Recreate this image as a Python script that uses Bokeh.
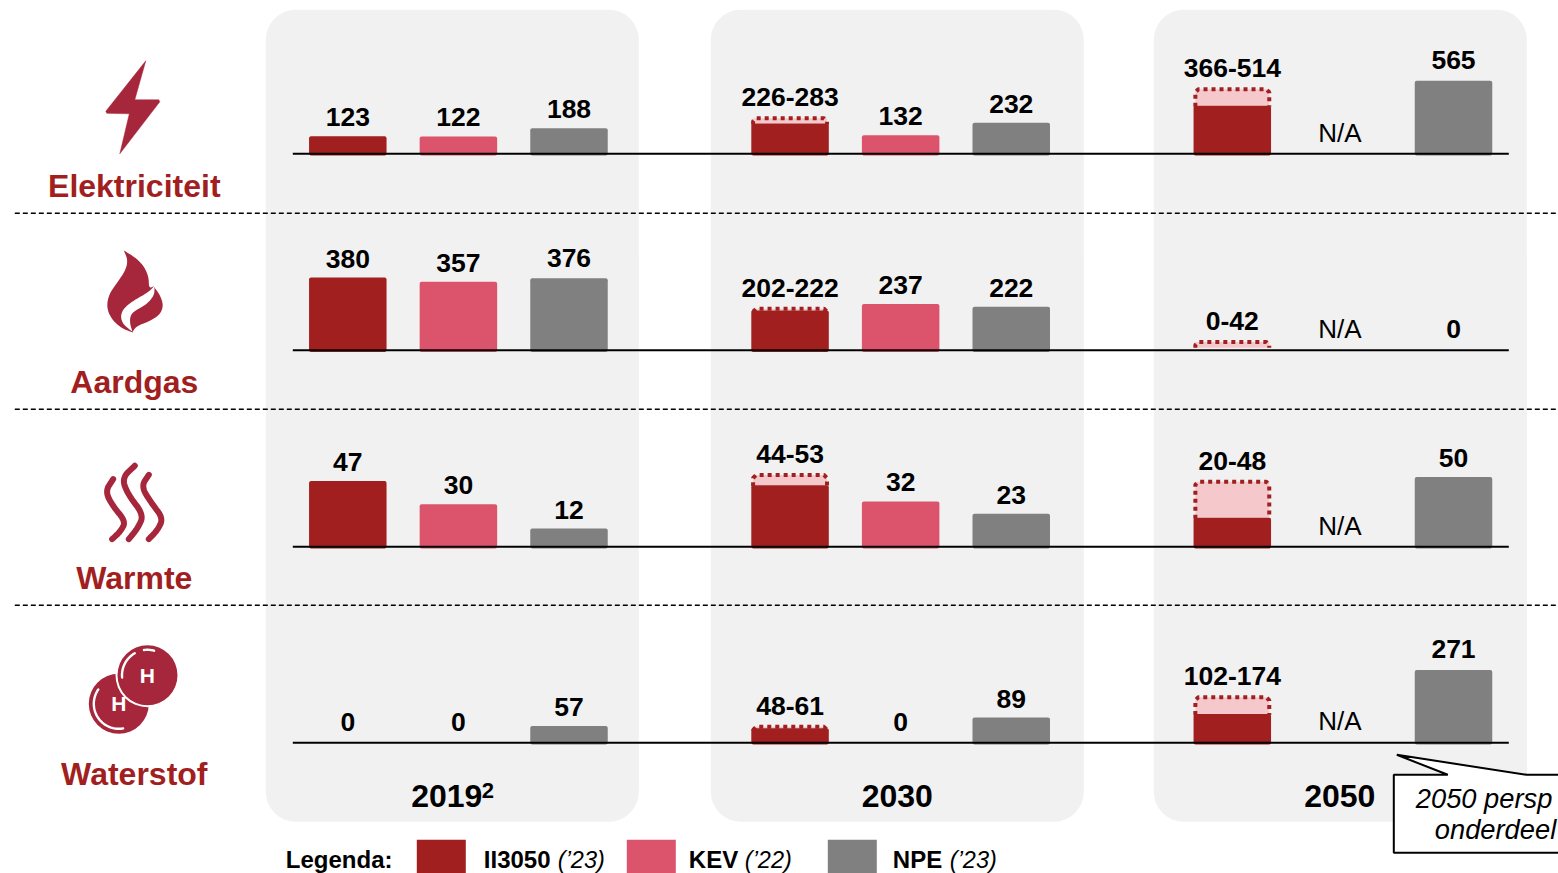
from bokeh.plotting import figure
from bokeh.embed import file_html
from bokeh.resources import INLINE
from bokeh.models import Range1d
from bokeh.core.properties import value
import numpy as np

# ---------- data ----------
periods = ["2019", "2030", "2050"]
rows = ["Elektriciteit", "Aardgas", "Warmte", "Waterstof"]

elek_ii_low = [123, 226, 366]
elek_ii_high = [123, 283, 514]
elek_kev = [122, 132, None]
elek_npe = [188, 232, 565]

gas_ii_low = [380, 202, 0]
gas_ii_high = [380, 222, 42]
gas_kev = [357, 237, None]
gas_npe = [376, 222, 0]

warm_ii_low = [47, 44, 20]
warm_ii_high = [47, 53, 48]
warm_kev = [30, 32, None]
warm_npe = [12, 23, 50]

h2_ii_low = [0, 48, 102]
h2_ii_high = [0, 61, 174]
h2_kev = [0, 0, None]
h2_npe = [57, 89, 271]

legend_names = ["II3050", "KEV", "NPE"]
legend_years = ["('23)", "('22)", "('23)"]
missing_label = "N/A"
callout_lines = ["2050 persp", "onderdeel"]

# ---------- layout (screen pixels) and style ----------
W, H = 1558, 873
SHIFT = 0.7  # page pixels the drawing is moved up and to the left
DARK, PINK, GREY, LIGHT = "#A11F1F", "#DC536C", "#808080", "#F5C9CC"
ICON, PANEL = "#A6263C", "#F1F1F1"
FONT = value("Liberation Sans")
# zero level and pixels per unit of each row, plus the baseline that is drawn
row_zero = [152, 348, 545, 741]
row_scale = [0.1256, 0.185, 1.355, 0.2617]
row_line = [154, 350.5, 547, 743]
row_label_y = [186, 382, 578, 774]
bar_x0, bar_dx, period_dx, bar_w = 348, 110.6, 442.25, 77.5
panel_x = [(266, 639), (711, 1084), (1154, 1527)]
label_nudge = {(0, 2, 2): -1.5, (3, 2, 2): -1.5, (1, 0, 2): -1}  # row, period, series
na_nudge = [0, 0, 0, -1]

p = figure(width=W, height=H, output_backend="svg", toolbar_location=None,
           x_range=Range1d(SHIFT, W + SHIFT), y_range=Range1d(H + SHIFT, SHIFT),
           min_border=0, outline_line_color=None, background_fill_color="white")
p.axis.visible = False
p.grid.visible = False
p.xaxis.visible = False
p.yaxis.visible = False

ranges = [f"row{i}" for i in range(4)]
for name, z, k in zip(ranges, row_zero, row_scale):
    p.extra_y_ranges[name] = Range1d((z - (H + SHIFT)) / k, (z - SHIFT) / k)


def txt(x, y, s, size, style="normal", color="black", align="center", **kw):
    p.text([x], [y], text=[s], text_font=FONT, text_font_size=size, text_font_style=style,
           text_color=color, text_align=align, text_baseline="middle", **kw)


# panels
for x0, x1 in panel_x:
    p.quad(left=[x0], right=[x1], top=[10], bottom=[822], fill_color=PANEL, line_color=None,
           border_radius=30)

# dashed separators
for y in [213.5, 409.5, 605.5]:
    p.line([15, 1560], [y, y], line_color="black", line_width=1.5, line_dash="5 3")

# bars
table = [
    (elek_ii_low, elek_ii_high, elek_kev, elek_npe),
    (gas_ii_low, gas_ii_high, gas_kev, gas_npe),
    (warm_ii_low, warm_ii_high, warm_kev, warm_npe),
    (h2_ii_low, h2_ii_high, h2_kev, h2_npe),
]
for r, (lows, highs, kevs, npes) in enumerate(table):
    rng, k, zero, line_y = ranges[r], row_scale[r], row_zero[r], row_line[r]
    under = -(line_y + 1.6 - zero) / k
    for i in range(len(periods)):
        xs = [bar_x0 + period_dx * i + bar_dx * j for j in range(3)]
        low, high = lows[i], highs[i]
        if high > low:
            top = high - 2 / k
            l, rt = xs[0] - bar_w / 2 + 1.8, xs[0] + bar_w / 2 - 1.8
            p.vbar(x=[xs[0]], width=bar_w - 3.6, bottom=[low], top=[top], fill_color=LIGHT,
                   line_color=None, y_range_name=rng)
            foot = low if low == 0 else low - 1 / k
            side = max(foot, top - 3.5 / k)
            p.line([l, l, l + 3, rt - 3, rt, rt], [foot, top - 3 / k, top, top, top - 3 / k, foot],
                   line_color=DARK, line_width=4, line_dash="4 4", y_range_name=rng)
        if low > 0:
            p.vbar(x=[xs[0]], width=bar_w, bottom=[under], top=[low], fill_color=DARK,
                   line_color=None, border_radius=2, y_range_name=rng)
        if kevs[i] is not None and kevs[i] > 0:
            p.vbar(x=[xs[1]], width=bar_w, bottom=[under], top=[kevs[i]], fill_color=PINK,
                   line_color=None, border_radius=2, y_range_name=rng)
        if npes[i] > 0:
            p.vbar(x=[xs[2]], width=bar_w, bottom=[under], top=[npes[i]], fill_color=GREY,
                   line_color=None, border_radius=2, y_range_name=rng)
        # labels
        lab = str(high) if high == low else f"{low}-{high}"
        for j, (x, v, s) in enumerate([(xs[0], high, lab), (xs[1], kevs[i], None), (xs[2], npes[i], str(npes[i]))]):
            if v is None:
                p.text([x - 3], [0], text=[missing_label], text_font=FONT, text_font_size="26px",
                       text_align="center", text_baseline="middle", y_offset=-19 + na_nudge[r],
                       y_range_name=rng)
                continue
            p.text([x], [v], text=[s if s else str(v)], text_font=FONT, text_font_size="26.5px",
                   text_font_style="bold", text_align="center", text_baseline="middle",
                   y_offset=-19 + label_nudge.get((r, i, j), 0), y_range_name=rng)
    p.line([293, 1509], [line_y, line_y], line_color="black", line_width=2)

# period labels
for s, x in zip(periods, [447, 897.5, 1340]):
    txt(x, 796, s, "32px", "bold")
txt(482, 791, "2", "22px", "bold", align="left")

# row labels
for s, y in zip(rows, row_label_y):
    txt(134.5, y, s, "32px", "bold", DARK)

# legend
txt(286, 860, "Legenda:", "24px", "bold", align="left")
colors = [DARK, PINK, GREY]
for name, yr, c, sw, tx, ty in zip(legend_names, legend_years, colors, [417, 627, 828],
                                   [484, 689, 893], [558, 745, 950]):
    p.quad(left=[sw], right=[sw + 49], top=[840], bottom=[880], fill_color=c, line_color=None)
    txt(tx, 860, name, "24px", "bold", align="left")
    txt(ty, 860, yr.replace("'", "\u2019"), "23.5px", "italic", align="left")

# callout
p.patch([1394, 1448, 1397, 1527, 1570, 1570, 1394], [775, 775, 755, 775, 775, 853, 853],
        fill_color="white", line_color="black", line_width=2)
txt(1416, 799, callout_lines[0], "27.3px", "italic", align="left")
txt(1435, 830, callout_lines[1], "27.3px", "italic", align="left")


# ---------- icons ----------
def chaikin(pts, n=3):
    a = np.array(pts, float)
    for _ in range(n):
        q = 0.75 * a[:-1] + 0.25 * a[1:]
        r = 0.25 * a[:-1] + 0.75 * a[1:]
        a = np.vstack([a[:1], np.column_stack([q, r]).reshape(-1, 2), a[-1:]])
    return a


def zoomed(pts, ox, oy):
    return [(x / 3 + ox, y / 3 + oy) for x, y in pts]


# bolt
bolt = [(146, 61), (106, 111.5), (107, 113.5), (129.5, 114), (120, 154), (160, 102), (159, 100), (135, 100)]
p.patch(*zip(*bolt), fill_color=ICON, line_color=ICON, line_width=0.5)

# flame
flame = zoomed([(372, 92), (372, 92), (405, 112), (432, 138), (447, 172), (447, 205), (462, 200), (462, 200),
                (482, 228), (491, 258), (480, 285), (450, 304), (420, 315), (405, 325), (398, 338), (398, 338),
                (365, 325), (335, 298), (320, 262), (328, 222), (355, 185), (378, 150), (384, 120), (372, 92)], 0, 220)
a = chaikin(flame, 3)
p.patch(a[:, 0], a[:, 1], fill_color=ICON, line_color=None)
swoosh = zoomed([(464, 198), (464, 198), (445, 218), (405, 240), (375, 262), (362, 285), (368, 312), (398, 336), (398, 336),
                 (390, 310), (392, 285), (410, 270), (440, 254), (464, 226), (464, 198)], 0, 220)
a = chaikin(swoosh, 3)
p.patch(a[:, 0], a[:, 1], fill_color="white", line_color=None)

# heat waves
for w in [[(340, 778), (316, 815), (340, 860), (378, 905), (362, 935), (337, 958)],
          [(405, 738), (366, 775), (385, 825), (432, 885), (414, 925), (387, 958)],
          [(447, 765), (424, 800), (455, 850), (490, 895), (474, 930), (447, 958)]]:
    a = chaikin(zoomed(w, 0, 220), 3)
    p.line(a[:, 0], a[:, 1], line_color=ICON, line_width=6, line_cap="round", line_join="round")


def arc(cx, cy, r, a0, a1):
    t = np.radians(np.linspace(a0, a1, 30))
    return cx + r * np.cos(t), cy + r * np.sin(t)


# hydrogen
p.circle([119], [704], radius=30, fill_color=ICON, line_color=None)
p.circle([147.7], [675.5], radius=32, fill_color="white", line_color=None)
p.circle([147.7], [675.5], radius=30, fill_color=ICON, line_color=None)
p.line(*arc(119, 704, 25, 80, 215), line_color="white", line_width=2.4, line_cap="round")
p.line(*arc(147.7, 675.5, 25.5, 175, 240), line_color="white", line_width=2.4, line_cap="round")
p.line(*arc(147.7, 675.5, 25.5, 262, 285), line_color="white", line_width=2.4, line_cap="round")
txt(147.5, 676, "H", "21px", "bold", "white")
txt(119, 704, "H", "21px", "bold", "white")

open("out.html", "w").write(file_html(p, INLINE))
